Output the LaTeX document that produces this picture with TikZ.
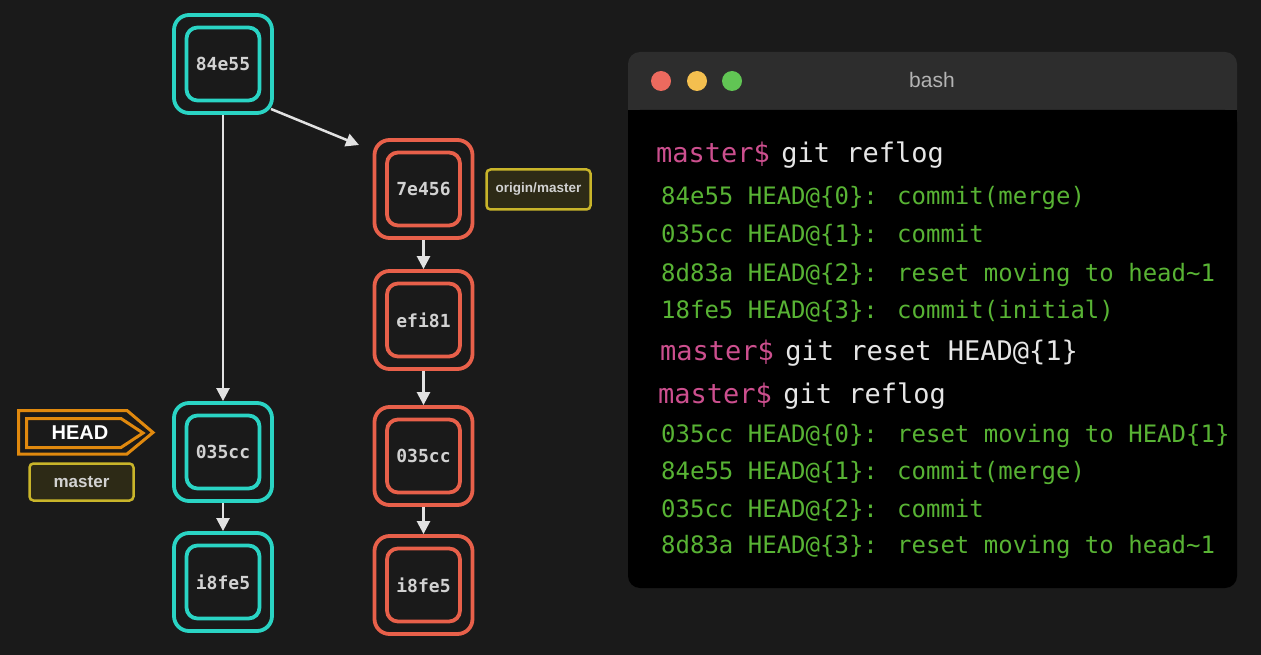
\documentclass[tikz,border=0pt]{standalone}
\usepackage{fontspec}
\usetikzlibrary{arrows.meta}
\newfontfamily\hashfont{DejaVu Sans Mono}
\newfontfamily\labfont{Liberation Sans}
\definecolor{bg}{HTML}{1A1A1A}
\definecolor{cyanc}{HTML}{2AD4C4}
\definecolor{redc}{HTML}{E8604A}
\definecolor{hashgray}{HTML}{D2D2D2}
\definecolor{arrowgray}{HTML}{E2E2E2}
\definecolor{headorange}{HTML}{E0890E}
\definecolor{labyellow}{HTML}{C9B52A}
\definecolor{labfill}{HTML}{2D2A16}
\definecolor{titlebar}{HTML}{2D2D2D}
\definecolor{titletext}{HTML}{B4B4B4}
\definecolor{promptpink}{HTML}{CC4F8E}
\definecolor{cmdwhite}{HTML}{E6E6E6}
\definecolor{loggreen}{HTML}{58B334}
\definecolor{tlred}{HTML}{EC6A5E}
\definecolor{tlyellow}{HTML}{F4BF4F}
\definecolor{tlgreen}{HTML}{61C554}
\newcommand\promptline[1]{{\color{promptpink}master\$}\hspace{-5pt} #1}
\begin{document}
\begin{tikzpicture}[x=1pt,y=-1pt,
  commit/.style={draw=#1, line width=3.8pt, rounded corners=15pt, minimum width=98pt, minimum height=98pt, fill=bg, inner sep=0pt},
  commitin/.style={draw=#1, line width=3.8pt, rounded corners=11pt, minimum width=73pt, minimum height=73pt, inner sep=0pt, font=\hashfont\bfseries\fontsize{18}{18}\selectfont, text=hashgray},
  arr/.style={draw=arrowgray, line width=2.5pt, -{Triangle[length=13pt,width=13pt]}},
  branchlab/.style={draw=labyellow, fill=labfill, line width=2.5pt, rounded corners=4pt, inner sep=0pt, text=hashgray, font=\labfont\bfseries},
  term/.style={anchor=base west, inner sep=0pt, font=\hashfont\fontsize{24}{24}\selectfont},
  prompt/.style={anchor=base west, inner sep=0pt, text=cmdwhite, font=\hashfont\fontsize{27}{27}\selectfont},
  logline/.style={term, text=loggreen},
  light/.style={circle, inner sep=0pt, minimum size=20pt}
]
\fill[bg] (0,0) rectangle (1261,655);
\useasboundingbox (0,0) rectangle (1261,655);

% ---------- cyan branch ----------
\node[commit=cyanc] (c84) at (223,64) {};
\node[commitin=cyanc] (c84in) at (c84) {84e55};
\node[commit=cyanc] (c035) at (223,452) {};
\node[commitin=cyanc] (c035in) at (c035) {035cc};
\node[commit=cyanc] (ci8) at (223,582) {};
\node[commitin=cyanc] (ci8in) at (ci8) {i8fe5};

% ---------- red branch ----------
\node[commit=redc] (r7e) at (423.5,189) {};
\node[commitin=redc] (r7ein) at (r7e) {7e456};
\node[commit=redc] (ref) at (423.5,320) {};
\node[commitin=redc] (refin) at (ref) {efi81};
\node[commit=redc] (r035) at (423.5,456) {};
\node[commitin=redc] (r035in) at (r035) {035cc};
\node[commit=redc] (ri8) at (423.5,585) {};
\node[commitin=redc] (ri8in) at (ri8) {i8fe5};

% ---------- arrows ----------
\draw[arr] (c84.south) -- (c035.north);
\draw[arr] (c035.south) -- (ci8.north);
\coordinate (mergeStart) at (271,109);
\coordinate (mergeTip) at (359,145);
\draw[arr] (mergeStart) -- (mergeTip);
\draw[arr] (r7e.south) -- (ref.north);
\draw[arr] (ref.south) -- (r035.north);
\draw[arr] (r035.south) -- (ri8.north);

% ---------- labels ----------
\draw[headorange, line width=3pt, fill=bg] (18.5,410.5) -- (127,410.5) -- (153,432.5) -- (127,454) -- (18.5,454) -- cycle;
\draw[headorange, line width=3pt, fill=bg] (26.5,418.5) -- (121,418.5) -- (143,433) -- (121,447.5) -- (26.5,447.5) -- cycle;
\node[text=white, font=\labfont\bfseries\fontsize{20}{20}\selectfont, inner sep=0pt] (head) at (80,433) {HEAD};
\node[branchlab, minimum width=104pt, minimum height=37pt, font=\labfont\bfseries\fontsize{17}{17}\selectfont] (master) at (81.5,482) {master};
\node[branchlab, minimum width=104pt, minimum height=40pt, font=\labfont\bfseries\fontsize{13.5}{13.5}\selectfont] (origin) at (538.5,189.5) {origin/master};

% ---------- terminal ----------
\fill[titlebar, rounded corners=12pt] (628,52) rectangle (1237,124);
\fill[black, rounded corners=12pt] (628,110) rectangle (1237,588);
\fill[black] (628,110) rectangle (1237,130);
\node[light, fill=tlred] (tl1) at (661,81) {};
\node[light, fill=tlyellow] (tl2) at (697,81) {};
\node[light, fill=tlgreen] (tl3) at (732,81) {};
\node[text=titletext, font=\labfont\fontsize{21}{21}\selectfont, inner sep=0pt] (title) at (932,80) {bash};

\node[prompt] (p1) at (656,163) {\promptline{git reflog}};
\node[logline] (l1) at (661,205) {84e55 HEAD@\{0\}: commit(merge)};
\node[logline] (l2) at (661,243) {035cc HEAD@\{1\}: commit};
\node[logline] (l3) at (661,281) {8d83a HEAD@\{2\}: reset moving to head\textasciitilde 1};
\node[logline] (l4) at (661,318) {18fe5 HEAD@\{3\}: commit(initial)};
\node[prompt] (p2) at (660,360) {\promptline{git reset HEAD@\{1\}}};
\node[prompt] (p3) at (658,403) {\promptline{git reflog}};
\node[logline] (l5) at (661,442) {035cc HEAD@\{0\}: reset moving to HEAD\{1\}};
\node[logline] (l6) at (661,479) {84e55 HEAD@\{1\}: commit(merge)};
\node[logline] (l7) at (661,517) {035cc HEAD@\{2\}: commit};
\node[logline] (l8) at (661,553) {8d83a HEAD@\{3\}: reset moving to head\textasciitilde 1};
\end{tikzpicture}
\end{document}
